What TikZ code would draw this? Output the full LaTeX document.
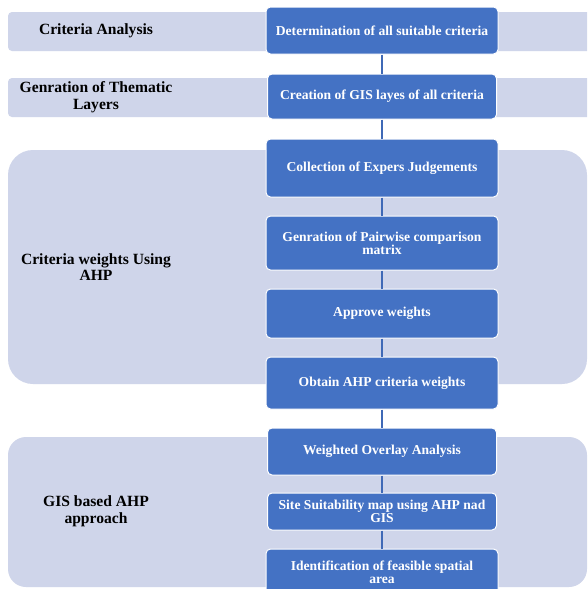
\documentclass[tikz,border=0pt]{standalone}
\usepackage{fontspec}
\setmainfont{Liberation Serif}
\definecolor{bandfill}{HTML}{CFD5EA}
\definecolor{boxfill}{HTML}{4472C4}
\definecolor{linkcol}{HTML}{3F69B6}
\begin{document}
\begin{tikzpicture}[x=1pt,y=-1pt,
  band/.style={fill=bandfill,draw=none,inner sep=0pt,outer sep=0pt},
  lbl/.style={align=center,font=\fontsize{15.6}{16.8}\selectfont\bfseries,text=black,inner sep=0pt},
  stepbox/.style={fill=boxfill,draw=white,line width=1pt,rounded corners=4.5pt,
    align=center,text=white,font=\fontsize{13.6}{12.8}\selectfont\bfseries,inner sep=0pt},
  link/.style={draw=linkcol,line width=2pt}]
\path[use as bounding box,clip] (0,0) rectangle (587,589);
\fill[white] (0,0) rectangle (587,589);
% bands
\node[band,rounded corners=4pt,minimum width=587pt,minimum height=39pt] (g1) at (301.5,31.5) {};
\node[band,rounded corners=4pt,minimum width=587pt,minimum height=39pt] (g2) at (301.5,97.5) {};
\node[band,rounded corners=25pt,minimum width=579pt,minimum height=234pt] (g3) at (297.5,267) {};
\node[band,rounded corners=18pt,minimum width=579pt,minimum height=150pt] (g4) at (297.5,512) {};
% band labels
\node[lbl] (l1) at (96,31) {Criteria Analysis};
\node[lbl] (l2) at (96,97.5) {Genration of Thematic\\Layers};
\node[lbl] (l3) at (96,267) {Criteria weights Using\\AHP};
\node[lbl] (l4) at (96,511.5) {GIS based AHP\\approach};
% step boxes
\node[stepbox,minimum width=232pt,minimum height=47pt] (b1) at (382,30.5) {Determination of all suitable criteria};
\node[stepbox,minimum width=229pt,minimum height=45pt] (b2) at (382,96.5) {Creation of GIS layes of all criteria};
\node[stepbox,minimum width=232pt,minimum height=58pt] (b3) at (382,168) {Collection of Expers Judgements};
\node[stepbox,minimum width=232pt,minimum height=54pt] (b4) at (382,243) {Genration of Pairwise comparison\\matrix};
\node[stepbox,minimum width=232pt,minimum height=49pt] (b5) at (382,313.5) {Approve weights};
\node[stepbox,minimum width=232pt,minimum height=52pt] (b6) at (382,383) {Obtain AHP criteria weights};
\node[stepbox,minimum width=229pt,minimum height=47pt] (b7) at (382,451.5) {Weighted Overlay Analysis};
\node[stepbox,minimum width=229pt,minimum height=37pt] (b8) at (382,511.5) {Site Suitability map using AHP nad\\GIS};
\node[stepbox,minimum width=232pt,minimum height=47pt] (b9) at (382,572.5) {Identification of feasible spatial\\area};
% connectors
\draw[link] (b1.south) -- (b2.north);
\draw[link] (b2.south) -- (b3.north);
\draw[link] (b3.south) -- (b4.north);
\draw[link] (b4.south) -- (b5.north);
\draw[link] (b5.south) -- (b6.north);
\draw[link] (b6.south) -- (b7.north);
\draw[link] (b7.south) -- (b8.north);
\draw[link] (b8.south) -- (b9.north);
\end{tikzpicture}
\end{document}
